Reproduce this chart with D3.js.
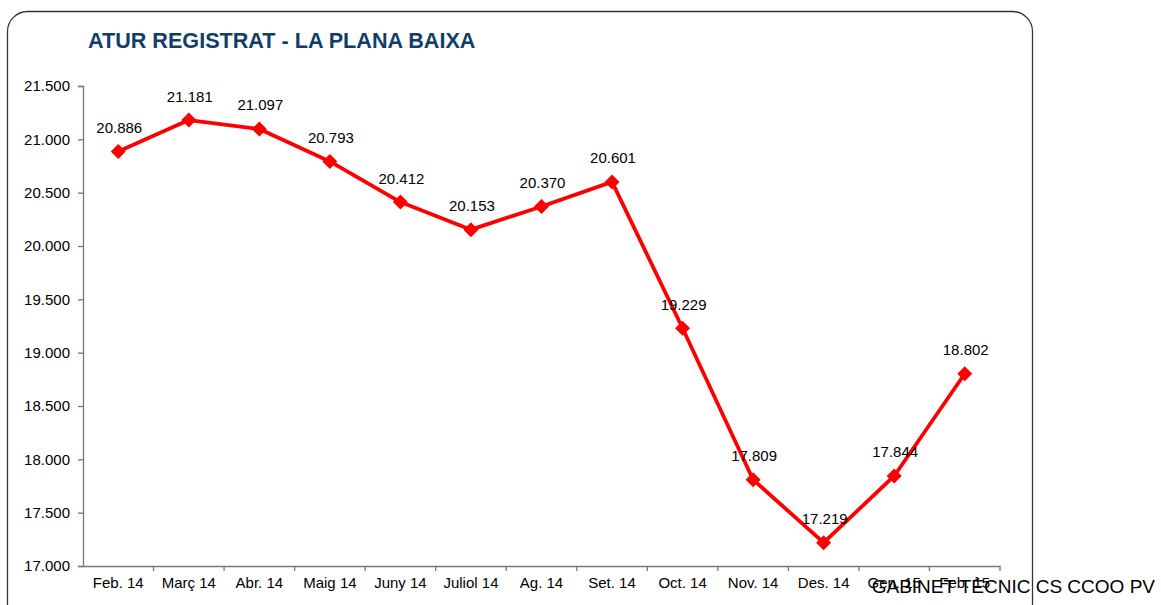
<!DOCTYPE html>
<html>
<head>
<meta charset="utf-8">
<script src="https://cdn.jsdelivr.net/npm/d3@7"></script>
<style>
    body { margin: 0; background: #fff; }
    svg text { font-family: "Liberation Sans", Arial, sans-serif; }
</style>
</head>
<body>
<div id="chart"></div>
<script>
// chart data
let months = ["Feb. 14", "Març 14", "Abr. 14", "Maig 14", "Juny 14", "Juliol 14", "Ag. 14",
    "Set. 14", "Oct. 14", "Nov. 14", "Des. 14", "Gen. 15", "Feb. 15"];
let atur = [20886, 21181, 21097, 20793, 20412, 20153, 20370, 20601, 19229, 17809, 17219, 17844, 18802];
let yTicks = [17000, 17500, 18000, 18500, 19000, 19500, 20000, 20500, 21000, 21500];

let title = "ATUR REGISTRAT - LA PLANA BAIXA";
let source = "GABINET TÈCNIC CS CCOO PV";

// catalan number format: 21.500
let locale = d3.formatLocale({decimal: ",", thousands: ".", grouping: [3], currency: ["", " €"]});
let fmt = locale.format(",d");

let W = 1161, H = 605;
let margin = {top: 86, right: 161, bottom: 39, left: 83};
let width = W - margin.left - margin.right;
let height = H - margin.top - margin.bottom;

let svg = d3.select("#chart").append("svg")
    .attr("width", W)
    .attr("height", H);

// rounded frame (runs off the bottom of the picture)
svg.append("rect")
    .attr("x", 7.5).attr("y", 11.5)
    .attr("width", 1025).attr("height", 640)
    .attr("rx", 20)
    .attr("fill", "none")
    .attr("stroke", "#333")
    .attr("stroke-width", 1.3);

svg.append("text")
    .attr("x", 88).attr("y", 48)
    .attr("font-size", 21.6)
    .attr("font-weight", "bold")
    .attr("fill", "#123d6b")
    .text(title);

let g = svg.append("g")
    .attr("transform", "translate(" + margin.left + "," + margin.top + ")");

// scales
let x = d3.scaleBand().domain(months).range([0, width]);
let y = d3.scaleLinear().domain([17000, 21500]).range([height, 0]);

// y axis
let yAxis = g.append("g")
    .attr("class", "y-axis")
    .call(d3.axisLeft(y).tickValues(yTicks).tickFormat(fmt).tickSize(5).tickPadding(8));
yAxis.select(".domain").attr("stroke", "#777").attr("stroke-width", 1.3);
yAxis.selectAll(".tick line").attr("stroke", "#777").attr("stroke-width", 1.3);
yAxis.selectAll("text").attr("font-size", 15).attr("fill", "#000");

// x axis, ticks between categories
let xAxis = g.append("g")
    .attr("class", "x-axis")
    .attr("transform", "translate(0," + height + ")")
    .call(d3.axisBottom(x).tickSize(0).tickPadding(11));
xAxis.select(".domain").attr("stroke", "#777").attr("stroke-width", 1.3);
xAxis.selectAll("text").attr("font-size", 15).attr("fill", "#000");

g.append("g").selectAll("line")
    .data(months)
    .join("line")
    .attr("x1", d => x(d) + x.bandwidth())
    .attr("x2", d => x(d) + x.bandwidth())
    .attr("y1", height)
    .attr("y2", height + 5)
    .attr("stroke", "#777")
    .attr("stroke-width", 1.3);

// line
let line = d3.line()
    .x((d, i) => x(months[i]) + x.bandwidth() / 2)
    .y(d => y(d));

g.append("path")
    .datum(atur)
    .attr("d", line)
    .attr("fill", "none")
    .attr("stroke", "#ff0000")
    .attr("stroke-width", 3.8)
    .attr("stroke-linejoin", "round");

// diamond markers
g.selectAll(".marker")
    .data(atur)
    .join("path")
    .attr("class", "marker")
    .attr("d", "M0,-7.5L7.5,0L0,7.5L-7.5,0Z")
    .attr("transform", (d, i) => "translate(" + (x(months[i]) + x.bandwidth() / 2) + "," + y(d) + ")")
    .attr("fill", "#ff0000");

// data labels
g.selectAll(".lbl")
    .data(atur)
    .join("text")
    .attr("class", "lbl")
    .attr("x", (d, i) => x(months[i]) + x.bandwidth() / 2 + 1)
    .attr("y", d => y(d) - 18.5)
    .attr("text-anchor", "middle")
    .attr("font-size", 15)
    .attr("fill", "#000")
    .text(d => fmt(d));

// source note, overlaps the last labels as in the original
svg.append("text")
    .attr("x", 1155).attr("y", 593)
    .attr("text-anchor", "end")
    .attr("font-size", 19)
    .attr("fill", "#000")
    .text(source);
</script>
</body>
</html>
